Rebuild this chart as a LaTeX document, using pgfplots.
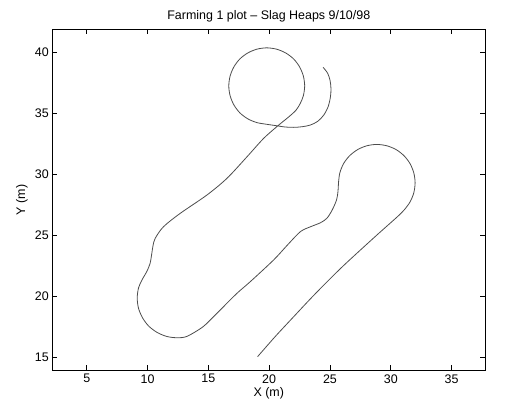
\documentclass[border=0pt]{standalone}
\usepackage{pgfplots}
\pgfplotsset{compat=1.18}
\usepackage{fontspec}
\setmainfont{Liberation Sans}
\begin{document}
\begin{tikzpicture}
\useasboundingbox (0,0) rectangle (508bp,410bp);
\begin{axis}[
  at={(52.3bp,39.7bp)}, anchor=south west,
  scale only axis, width=433bp, height=341bp,
  xmin=2.17, xmax=37.77, ymin=13.93, ymax=41.89,
  xtick={5,10,...,35}, ytick={15,20,...,40},
  tick align=inside, major tick length=5bp,
  xtick pos=both, ytick pos=both,
  axis line style={line width=0.8bp, black},
  every tick/.style={line width=0.8bp, black},
  /pgf/number format/assume math mode=true,
  tick label style={font=\fontsize{12.5}{14}\selectfont},
  xticklabel style={yshift=-0.5bp},
  label style={font=\fontsize{12.5}{14}\selectfont},
  title={Farming 1 plot -- Slag Heaps 9/10/98},
  title style={at={(0.5,1)}, anchor=base, yshift=3.5bp, inner sep=0pt, font=\fontsize{12.5}{14}\selectfont},
  xlabel={X (m)},
  xlabel style={at={(0.5,0)}, anchor=base, yshift=-26.4bp, inner sep=0pt},
  ylabel={Y (m)},
  ylabel style={at={([xshift=-27.3bp]axis description cs:0,0.5)}, anchor=base, rotate=0, inner sep=0pt},
]
\addplot[line width=0.8bp, color=black!70, smooth, tension=0.5] coordinates {
(19.05,15.05) (20.5,16.7) (22.02,18.33) (23.4,19.8) (24.77,21.2) (26.1,22.5) (27.51,23.8)
(29.0,25.15) (30.54,26.52) (31.1,27.08) (31.58,27.73) (31.89,28.48) (32.0,29.3) (31.89,30.12)
(31.58,30.88) (31.08,31.53) (30.43,32.03) (29.67,32.34) (28.85,32.45) (28.03,32.34) (27.28,32.03)
(26.62,31.53) (26.12,30.88) (25.81,30.12) (25.7,29.3) (25.66,28.6) (25.54,27.9) (25.18,27.07)
(24.75,26.4) (24.22,26.03) (23.4,25.7) (22.57,25.3) (21.5,24.2) (20.37,22.98) (18.45,21.2)
(17.36,20.25) (16.2,19.1) (15.16,18.06) (14.5,17.45) (13.24,16.71) (12.4,16.6) (11.56,16.71)
(10.78,17.04) (10.1,17.55) (9.59,18.23) (9.26,19.01) (9.15,19.85) (9.26,20.69) (9.55,21.35)
(9.95,22.05) (10.21,22.7) (10.35,23.5) (10.45,24.15) (10.63,24.75) (11.31,25.7) (12.69,26.8)
(14.88,28.3) (16.53,29.67) (18.18,31.44) (19.55,32.95) (20.79,34.04) (21.6,34.7) (22.2,35.25)
(22.55,35.8) (22.81,36.44) (22.92,37.25) (22.81,38.06) (22.5,38.81) (22.01,39.46) (21.36,39.95)
(20.61,40.26) (19.8,40.37) (18.99,40.26) (18.24,39.95) (17.59,39.46) (17.10,38.81) (16.79,38.06)
(16.68,37.25) (16.79,36.44) (17.10,35.69) (17.59,35.04) (18.24,34.55) (18.99,34.24) (19.8,34.1)
(20.5,34.0) (21.3,33.88) (22.02,33.85) (22.7,33.9) (23.39,34.04) (24.0,34.35) (24.49,34.86)
(24.85,35.55) (25.04,36.36) (25.08,37.05) (25.0,37.73) (24.8,38.3) (24.44,38.77)
};
\end{axis}
\end{tikzpicture}
\end{document}
